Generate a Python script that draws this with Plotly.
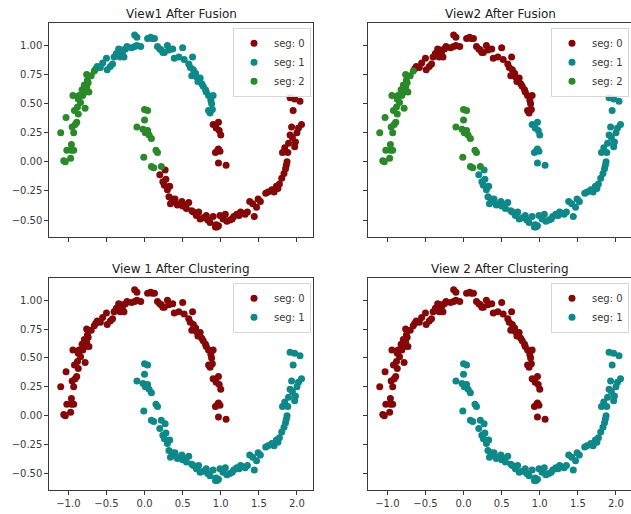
import plotly.graph_objects as go

# ---- point groups (two interleaving half moons) ----
UPPER_LEFT_X = [-1.10, -1.06, -1.04, -0.97, -1.02, -0.96, -0.96, -0.93, -1.03, -0.93,
                -0.91, -0.89, -0.92, -0.87, -0.78, -0.94, -0.87, -0.84, -0.81, -0.86,
                -0.78, -0.76, -0.74, -0.79, -0.73, -0.76, -0.66, -0.88, -0.75, -0.82,
                -0.70, -0.95]
UPPER_LEFT_Y = [0.25, 0.01, 0.00, 0.03, 0.10, 0.10, 0.15, 0.10, 0.38, 0.25,
                0.32, 0.34, 0.44, 0.41, 0.46, 0.57, 0.54, 0.51, 0.57, 0.57,
                0.60, 0.64, 0.68, 0.66, 0.60, 0.75, 0.78, 0.47, 0.70, 0.62,
                0.74, 0.30]

UPPER_MAIN_X = [-0.64, -0.62, -0.50, -0.49, -0.45, -0.42, -0.40, -0.37, -0.34, -0.32,
                -0.29, -0.27, -0.25, -0.23, -0.17, -0.13, -0.10, -0.05, -0.13, -0.10,
                0.04, 0.08, 0.13, 0.17, 0.20, 0.24, 0.26, 0.30, 0.32, 0.37,
                0.39, 0.45, 0.50, 0.52, 0.60, 0.63, 0.64, 0.67, 0.62, 0.72,
                0.75, 0.77, 0.73, 0.81, 0.84, 0.87, 0.90, 0.84, 0.86, 0.89,
                -0.55, 0.10, 0.68, 0.80, 0.88, -0.58, -0.30, 0.22, 0.58, 0.70]
UPPER_MAIN_Y = [0.80, 0.82, 0.89, 0.79, 0.82, 0.84, 0.90, 0.93, 0.97, 0.90,
                0.94, 0.90, 0.97, 0.99, 0.98, 0.99, 1.00, 0.99, 1.09, 1.07,
                1.06, 1.07, 1.06, 0.99, 0.97, 0.94, 0.94, 1.00, 0.96, 0.97,
                0.89, 0.90, 0.98, 0.88, 0.81, 0.90, 0.79, 0.76, 0.74, 0.70,
                0.67, 0.65, 0.72, 0.60, 0.57, 0.53, 0.57, 0.44, 0.42, 0.45,
                0.85, 1.06, 0.73, 0.62, 0.50, 0.81, 0.96, 0.96, 0.84, 0.69]

UPPER_TAIL_X = [0.90, 0.94, 0.97, 0.98, 1.00, 0.96, 0.99, 0.97, 0.97, 1.07, 0.93]
UPPER_TAIL_Y = [0.32, 0.29, 0.34, 0.27, 0.23, 0.10, 0.09, 0.11, -0.01, -0.03, 0.08]

LOWER_HEAD_X = [0.00, 0.04, 0.00, -0.10, -0.02, 0.01, 0.06, 0.09, -0.01, 0.09,
                0.12, 0.15, 0.17, 0.22, 0.04]
LOWER_HEAD_Y = [0.45, 0.44, 0.36, 0.30, 0.28, 0.25, 0.23, 0.20, 0.04, -0.04,
                -0.05, 0.10, 0.08, -0.04, 0.27]

LOWER_MAIN_X = [0.20, 0.24, 0.26, 0.28, 0.30, 0.33, 0.32, 0.36, 0.38, 0.43,
                0.47, 0.50, 0.49, 0.54, 0.58, 0.64, 0.68, 0.71, 0.73, 0.77,
                0.81, 0.83, 0.90, 0.93, 0.95, 0.97, 0.99, 1.03, 1.06, 1.08,
                1.12, 1.17, 1.21, 1.24, 1.26, 1.32, 1.35, 1.38, 1.44, 1.47,
                1.49, 1.52, 1.59, 1.67, 1.70, 1.73, 1.77, 1.80, 1.83, 1.85,
                1.87, 1.81, 1.84, 1.89, 1.91, 1.94, 1.98, 1.97, 2.00, 2.06,
                1.95, 1.91, 1.97, 2.04, 0.27, 0.62, 0.86, 1.15, 1.42, 1.62,
                1.88, 2.02, 1.93, 0.55, 0.40, 0.94, 1.28, 1.75, 1.86, 0.34]
LOWER_MAIN_Y = [-0.11, -0.17, -0.20, -0.15, -0.24, -0.21, -0.30, -0.32, -0.34, -0.37,
                -0.36, -0.38, -0.34, -0.37, -0.35, -0.43, -0.46, -0.43, -0.49, -0.48,
                -0.46, -0.50, -0.47, -0.56, -0.56, -0.55, -0.46, -0.49, -0.45, -0.51,
                -0.50, -0.47, -0.45, -0.46, -0.43, -0.45, -0.43, -0.34, -0.47, -0.39,
                -0.32, -0.34, -0.27, -0.24, -0.26, -0.21, -0.19, -0.14, -0.10, -0.06,
                0.00, 0.08, 0.12, 0.16, 0.23, 0.21, 0.17, 0.13, 0.25, 0.32,
                0.44, 0.55, 0.54, 0.52, -0.07, -0.42, -0.52, -0.49, -0.36, -0.26,
                0.08, 0.29, 0.30, -0.40, -0.32, -0.54, -0.44, -0.23, -0.03, -0.36]

GROUPS = {
    "upper_left": (UPPER_LEFT_X, UPPER_LEFT_Y),
    "upper_main": (UPPER_MAIN_X, UPPER_MAIN_Y),
    "upper_tail": (UPPER_TAIL_X, UPPER_TAIL_Y),
    "lower_head": (LOWER_HEAD_X, LOWER_HEAD_Y),
    "lower_main": (LOWER_MAIN_X, LOWER_MAIN_Y),
}

# ---- segment assignment for each panel ----
PANEL_TITLES = ["View1 After Fusion", "View2 After Fusion",
                "View 1 After Clustering", "View 2 After Clustering"]
PANEL_SEGMENTS = [
    [["upper_tail", "lower_main"], ["upper_main"], ["upper_left", "lower_head"]],
    [["upper_main"], ["upper_tail", "lower_main"], ["upper_left", "lower_head"]],
    [["upper_left", "upper_main", "upper_tail"], ["lower_head", "lower_main"]],
    [["upper_left", "upper_main", "upper_tail"], ["lower_head", "lower_main"]],
]
SEG_COLORS = ["#850808", "#0e8888", "#2a8a2a"]

X_TICKS = [-1.0, -0.5, 0.0, 0.5, 1.0, 1.5, 2.0]
Y_TICKS = [-0.50, -0.25, 0.00, 0.25, 0.50, 0.75, 1.00]


def fmt(v, nd):
    s = f"{v:.{nd}f}"
    return s.replace("-", "\u2212")


W, H = 631, 514
FONT = "DejaVu Sans"
AXC = "#3a3a3a"

# panel boxes in pixels: (left, right, top, bottom)
BOXES = [(49.3, 313.0, 23.3, 236.7), (368.3, 631.0, 23.3, 236.7),
         (49.3, 313.0, 278.3, 490.0), (368.3, 631.0, 278.3, 490.0)]
PX_PER_UNIT_X = 76.2
X_MIN = -1.25
Y_RANGE = [-0.643, 1.19]

fig = go.Figure()
layout = dict(
    width=W, height=H, autosize=False,
    margin=dict(l=0, r=0, t=0, b=0),
    paper_bgcolor="white", plot_bgcolor="white",
    font=dict(family=FONT, size=10, color=AXC),
    showlegend=True,
    annotations=[],
)

for i, (title, segs) in enumerate(zip(PANEL_TITLES, PANEL_SEGMENTS)):
    n = i + 1
    xa = "x" if n == 1 else f"x{n}"
    ya = "y" if n == 1 else f"y{n}"
    leg = "legend" if n == 1 else f"legend{n}"
    left, right, top, bottom = BOXES[i]
    xdom = [left / W, right / W]
    ydom = [1 - bottom / H, 1 - top / H]
    xmax = X_MIN + (right - left) / PX_PER_UNIT_X
    row, col = divmod(i, 2)

    for s, names in enumerate(segs):
        xs, ys = [], []
        for nm in names:
            gx, gy = GROUPS[nm]
            xs += gx
            ys += gy
        fig.add_trace(go.Scatter(
            x=xs, y=ys, mode="markers", name=f"seg: {s}",
            marker=dict(color=SEG_COLORS[s], size=7, line=dict(width=0)),
            xaxis=xa, yaxis=ya, legend=leg,
        ))

    layout["xaxis" if n == 1 else f"xaxis{n}"] = dict(
        domain=xdom, range=[X_MIN, xmax], anchor=ya,
        showgrid=False, zeroline=False,
        showline=True, linecolor=AXC, linewidth=1, mirror=True,
        ticks="outside", ticklen=4, tickcolor=AXC, tickwidth=1,
        tickvals=X_TICKS, ticktext=[fmt(v, 1) for v in X_TICKS],
        showticklabels=(row == 1),
        tickfont=dict(family=FONT, size=10, color=AXC),
    )
    layout["yaxis" if n == 1 else f"yaxis{n}"] = dict(
        domain=ydom, range=Y_RANGE, anchor=xa,
        showgrid=False, zeroline=False,
        showline=True, linecolor=AXC, linewidth=1, mirror=(col == 0),
        ticks="outside", ticklen=4, tickcolor=AXC, tickwidth=1,
        tickvals=Y_TICKS, ticktext=[fmt(v, 2) for v in Y_TICKS],
        showticklabels=(col == 0),
        tickfont=dict(family=FONT, size=10, color=AXC),
    )
    layout[leg] = dict(
        x=(right - 2) / W, xanchor="right",
        y=1 - (top + 4.5) / H, yanchor="top",
        bgcolor="rgba(255,255,255,0.85)", bordercolor="#d6d6d6", borderwidth=1,
        font=dict(family=FONT, size=10, color=AXC),
        itemwidth=30, tracegroupgap=0,
    )
    layout["annotations"].append(dict(
        text=title, xref="paper", yref="paper",
        x=(left + right) / 2 / W if col == 0 else (left + 313.0 - 49.3 + left) / 2 / W,
        y=1 - (top - 9.5) / H, xanchor="center", yanchor="middle",
        showarrow=False, font=dict(family=FONT, size=12, color="#222"),
    ))

fig.update_layout(**layout)
fig.write_html("out.html", config={"displayModeBar": False})
